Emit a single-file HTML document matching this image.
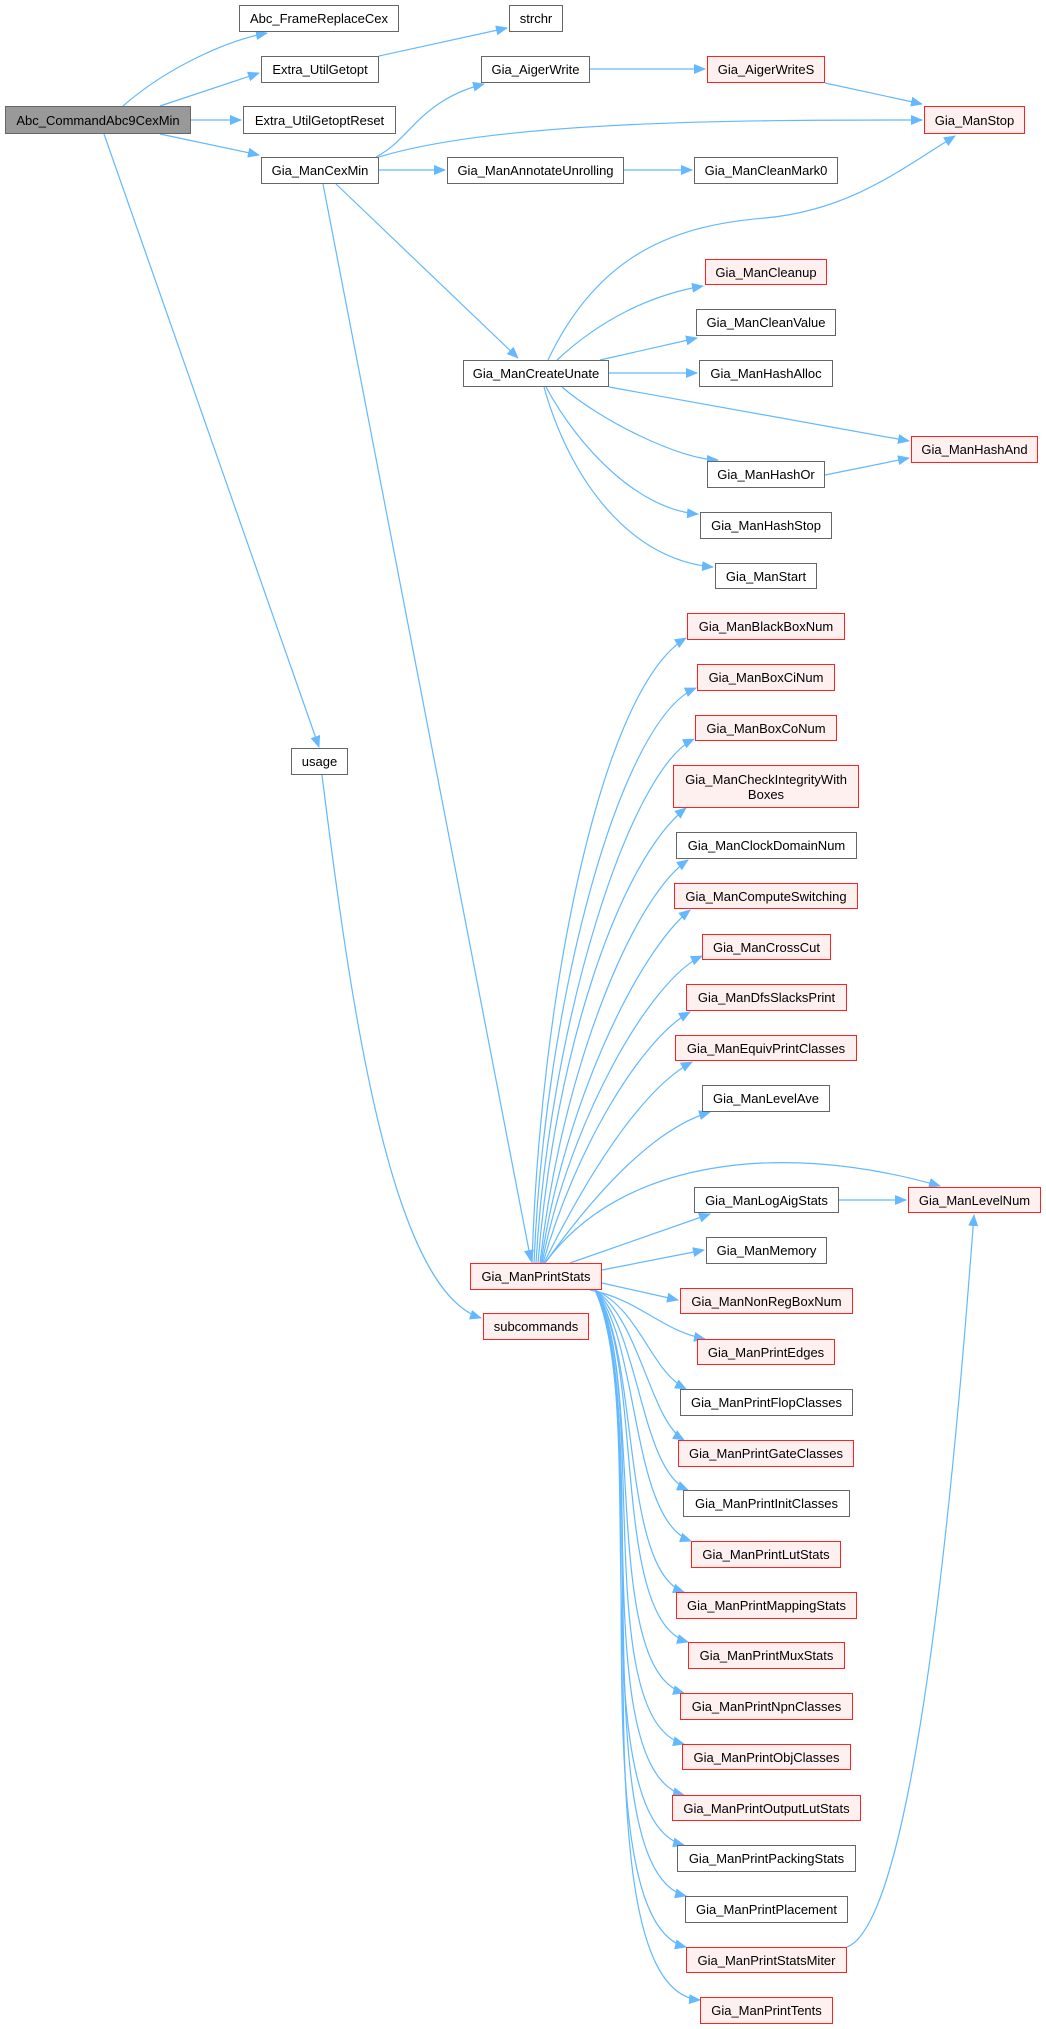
<!DOCTYPE html>
<html><head><meta charset="utf-8"><style>
body{margin:0;background:#fff;width:1046px;height:2029px;position:relative;overflow:hidden;font-family:"Liberation Sans",Arial,sans-serif;}
.n{position:absolute;box-sizing:border-box;border:1.5px solid #666;background:#fff;font-size:13px;color:#000;display:flex;align-items:center;justify-content:center;text-align:center;line-height:15px;white-space:nowrap}
.r{border-color:#ff2020;background:#fff0f0}
.g{background:#999}
svg{position:absolute;left:0;top:0}
</style></head><body>
<svg width="1046" height="2029" viewBox="0 0 1046 2029">
<defs><marker id="a" markerWidth="12" markerHeight="10" refX="11" refY="5" orient="auto" markerUnits="userSpaceOnUse"><path d="M0,0 L12,5 L0,10 z" fill="#63b8ff"/></marker></defs>
<g fill="none" stroke="#63b8ff" stroke-width="1.2" marker-end="url(#a)">
<path d="M123 106 C170 65 230 40 267 33"/>
<path d="M160 106 L259 73"/>
<path d="M191 120 L241 120"/>
<path d="M160 134 L259 155"/>
<path d="M104 134 L319 747"/>
<path d="M379 56 L507 28"/>
<path d="M376 157 C410 140 420 100 484 84"/>
<path d="M379 157 C500 120 750 120 922 120"/>
<path d="M590 69 L705 69"/>
<path d="M825 83 L922 104"/>
<path d="M379 170 L445 170"/>
<path d="M624 170 L692 170"/>
<path d="M336 184 L518 358"/>
<path d="M548 360 C600 250 680 225 765 218 C850 210 900 170 955 136"/>
<path d="M557 360 C600 320 650 295 703 286"/>
<path d="M600 360 L697 338"/>
<path d="M609 373 L697 373"/>
<path d="M609 387 L909 441"/>
<path d="M562 387 C600 420 680 460 718 460"/>
<path d="M546 387 C580 450 640 510 698 514"/>
<path d="M544 387 C570 480 630 560 713 567"/>
<path d="M825 475 L909 458"/>
<path d="M322 775 C350 1000 390 1290 481 1318"/>
<path d="M323 184 L531 1261"/>
<path d="M839 1200 L906 1200"/>
<path d="M847 1947 C920 1920 960 1400 974 1215"/>
<path d="M545 1263 C620 1160 780 1140 940 1186"/>
<path d="M570 1263 L710 1214"/>
<path d="M602 1270 L704 1250"/>
<path d="M602 1283 L678 1300"/>
<path d="M590 1290 C640 1300 660 1330 705 1339"/>
<path d="M532 1263 C540 1000 600 690 686 638"/>
<path d="M534 1263 C545 1000 620 720 696 688"/>
<path d="M536 1263 C550 1020 630 770 694 739"/>
<path d="M538 1263 C555 1050 620 860 686 808"/>
<path d="M540 1263 C560 1080 630 900 688 860"/>
<path d="M541 1263 C565 1100 640 950 690 910"/>
<path d="M542 1263 C570 1120 650 980 702 956"/>
<path d="M543 1263 C575 1150 640 1040 690 1012"/>
<path d="M544 1263 C585 1180 640 1090 692 1062"/>
<path d="M545 1263 C590 1200 650 1130 710 1112"/>
<path d="M595 1290 C640 1310 650 1370 686 1389"/>
<path d="M595 1290 C640 1320 650 1420 684 1440"/>
<path d="M595 1290 C640 1330 640 1470 688 1490"/>
<path d="M595 1290 C640 1340 630 1520 691 1541"/>
<path d="M595 1290 C640 1350 620 1570 684 1592"/>
<path d="M595 1290 C645 1360 610 1620 688 1642"/>
<path d="M595 1290 C645 1370 600 1670 684 1693"/>
<path d="M595 1290 C650 1380 590 1720 684 1744"/>
<path d="M595 1290 C650 1390 585 1770 684 1795"/>
<path d="M595 1290 C650 1400 580 1820 684 1845"/>
<path d="M595 1290 C655 1410 580 1870 686 1896"/>
<path d="M595 1290 C655 1420 575 1920 686 1947"/>
<path d="M595 1290 C660 1430 570 1990 700 2000"/>
</g></svg>
<div class="n g" style="left:5px;top:106px;width:186px;height:28px">Abc_CommandAbc9CexMin</div>
<div class="n" style="left:239px;top:5px;width:160px;height:27px">Abc_FrameReplaceCex</div>
<div class="n" style="left:509px;top:5px;width:54px;height:27px">strchr</div>
<div class="n" style="left:261px;top:56px;width:118px;height:27px">Extra_UtilGetopt</div>
<div class="n" style="left:481px;top:56px;width:109px;height:27px">Gia_AigerWrite</div>
<div class="n r" style="left:707px;top:56px;width:118px;height:27px">Gia_AigerWriteS</div>
<div class="n" style="left:243px;top:106px;width:153px;height:28px">Extra_UtilGetoptReset</div>
<div class="n r" style="left:924px;top:106px;width:101px;height:28px">Gia_ManStop</div>
<div class="n" style="left:261px;top:157px;width:118px;height:27px">Gia_ManCexMin</div>
<div class="n" style="left:447px;top:157px;width:177px;height:27px">Gia_ManAnnotateUnrolling</div>
<div class="n" style="left:694px;top:157px;width:144px;height:27px">Gia_ManCleanMark0</div>
<div class="n r" style="left:705px;top:259px;width:122px;height:26px">Gia_ManCleanup</div>
<div class="n" style="left:696px;top:309px;width:140px;height:27px">Gia_ManCleanValue</div>
<div class="n" style="left:463px;top:360px;width:146px;height:27px">Gia_ManCreateUnate</div>
<div class="n" style="left:699px;top:360px;width:134px;height:27px">Gia_ManHashAlloc</div>
<div class="n r" style="left:911px;top:436px;width:127px;height:27px">Gia_ManHashAnd</div>
<div class="n" style="left:707px;top:461px;width:118px;height:27px">Gia_ManHashOr</div>
<div class="n" style="left:700px;top:512px;width:132px;height:27px">Gia_ManHashStop</div>
<div class="n" style="left:715px;top:563px;width:102px;height:26px">Gia_ManStart</div>
<div class="n" style="left:291px;top:748px;width:57px;height:27px">usage</div>
<div class="n r" style="left:470px;top:1263px;width:132px;height:27px">Gia_ManPrintStats</div>
<div class="n r" style="left:483px;top:1313px;width:106px;height:27px">subcommands</div>
<div class="n r" style="left:687px;top:613px;width:158px;height:27px">Gia_ManBlackBoxNum</div>
<div class="n r" style="left:697px;top:664px;width:138px;height:27px">Gia_ManBoxCiNum</div>
<div class="n r" style="left:695px;top:715px;width:142px;height:26px">Gia_ManBoxCoNum</div>
<div class="n r" style="left:673px;top:765px;width:186px;height:43px">Gia_ManCheckIntegrityWith<br>Boxes</div>
<div class="n" style="left:676px;top:832px;width:181px;height:27px">Gia_ManClockDomainNum</div>
<div class="n r" style="left:674px;top:883px;width:184px;height:26px">Gia_ManComputeSwitching</div>
<div class="n r" style="left:702px;top:934px;width:129px;height:26px">Gia_ManCrossCut</div>
<div class="n r" style="left:686px;top:984px;width:161px;height:27px">Gia_ManDfsSlacksPrint</div>
<div class="n r" style="left:675px;top:1035px;width:182px;height:26px">Gia_ManEquivPrintClasses</div>
<div class="n" style="left:702px;top:1085px;width:128px;height:27px">Gia_ManLevelAve</div>
<div class="n" style="left:694px;top:1187px;width:145px;height:26px">Gia_ManLogAigStats</div>
<div class="n r" style="left:908px;top:1187px;width:133px;height:26px">Gia_ManLevelNum</div>
<div class="n" style="left:706px;top:1237px;width:121px;height:27px">Gia_ManMemory</div>
<div class="n r" style="left:680px;top:1288px;width:173px;height:26px">Gia_ManNonRegBoxNum</div>
<div class="n r" style="left:697px;top:1339px;width:138px;height:26px">Gia_ManPrintEdges</div>
<div class="n" style="left:680px;top:1389px;width:173px;height:27px">Gia_ManPrintFlopClasses</div>
<div class="n r" style="left:678px;top:1440px;width:176px;height:27px">Gia_ManPrintGateClasses</div>
<div class="n" style="left:683px;top:1490px;width:167px;height:27px">Gia_ManPrintInitClasses</div>
<div class="n r" style="left:691px;top:1541px;width:150px;height:27px">Gia_ManPrintLutStats</div>
<div class="n r" style="left:676px;top:1592px;width:181px;height:27px">Gia_ManPrintMappingStats</div>
<div class="n r" style="left:688px;top:1642px;width:157px;height:27px">Gia_ManPrintMuxStats</div>
<div class="n r" style="left:680px;top:1693px;width:173px;height:27px">Gia_ManPrintNpnClasses</div>
<div class="n r" style="left:682px;top:1744px;width:169px;height:26px">Gia_ManPrintObjClasses</div>
<div class="n r" style="left:672px;top:1795px;width:189px;height:26px">Gia_ManPrintOutputLutStats</div>
<div class="n" style="left:677px;top:1845px;width:179px;height:27px">Gia_ManPrintPackingStats</div>
<div class="n" style="left:685px;top:1896px;width:163px;height:27px">Gia_ManPrintPlacement</div>
<div class="n r" style="left:686px;top:1947px;width:161px;height:26px">Gia_ManPrintStatsMiter</div>
<div class="n r" style="left:700px;top:1997px;width:133px;height:27px">Gia_ManPrintTents</div>
</body></html>
